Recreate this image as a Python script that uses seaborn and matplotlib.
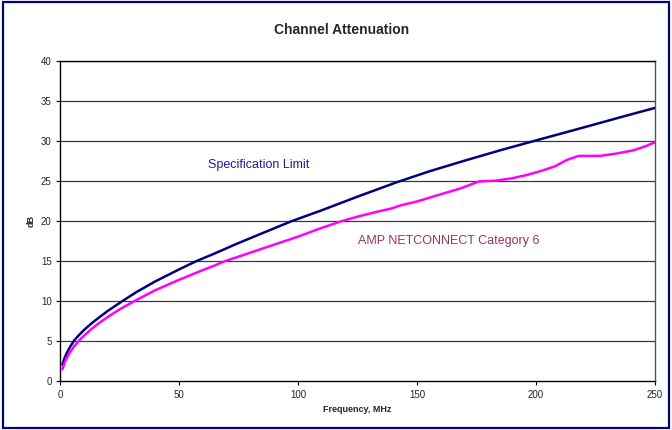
import pandas as pd
import matplotlib
matplotlib.use("Agg")
import matplotlib.pyplot as plt
import seaborn as sns
from matplotlib.patches import Rectangle

# values
spec_freq = [1, 2, 3, 4, 6, 8, 10, 13, 16, 20, 26, 32, 40, 50, 57, 65, 75, 86, 97,
             110, 125, 141, 155, 170, 185, 199, 212, 223, 237, 250]
spec_db = [2.1, 3.0, 3.65, 4.2, 5.15, 5.8, 6.4, 7.2, 7.9, 8.8, 10.0, 11.15, 12.5, 14.0,
           15.0, 16.0, 17.3, 18.65, 20.0, 21.4, 23.1, 24.85, 26.25, 27.6, 28.9, 30.05,
           31.1, 32.0, 33.15, 34.2]

amp_freq = [1, 2, 3, 4, 6, 8, 10, 13, 16, 20, 25, 31, 40, 50, 59, 65, 69, 80, 90,
            100, 110, 118, 125, 133, 139, 143, 150, 160, 168, 176, 183, 190, 196,
            202, 208, 213, 218, 227, 234, 241, 246, 250]
amp_db = [1.5, 2.4, 3.0, 3.55, 4.4, 5.1, 5.7, 6.5, 7.2, 8.05, 9.0, 10.0, 11.4, 12.7,
          13.8, 14.5, 15.0, 16.1, 17.1, 18.1, 19.2, 20.0, 20.6, 21.2, 21.6, 22.0,
          22.5, 23.4, 24.1, 25.0, 25.1, 25.4, 25.8, 26.3, 26.9, 27.7, 28.2, 28.2,
          28.5, 28.9, 29.4, 29.9]

x_ticks = [0, 50, 100, 150, 200, 250]
y_ticks = [0, 5, 10, 15, 20, 25, 30, 35, 40]

df = pd.concat([
    pd.DataFrame({"freq": spec_freq, "db": spec_db, "series": "Specification Limit"}),
    pd.DataFrame({"freq": amp_freq, "db": amp_db, "series": "AMP NETCONNECT Category 6"}),
])

sns.set_style("white")
plt.rcParams['font.family'] = ['Liberation Sans', 'DejaVu Sans']

fig = plt.figure(figsize=(6.72, 4.3), dpi=100)
ax = fig.add_axes([0.0893, 0.113, 0.8854, 0.744])

sns.lineplot(data=df, x="freq", y="db", hue="series", sort=False, estimator=None,
             palette={"Specification Limit": "#000080", "AMP NETCONNECT Category 6": "#ff00ff"},
             linewidth=1.8, legend=False, ax=ax)

ax.set_xlim(0, 250)
ax.set_ylim(0, 40)
ax.set_xticks(x_ticks)
ax.set_yticks(y_ticks)
ax.tick_params(axis="both", labelsize=7, length=3, width=0.8, direction="out",
               color="black", pad=3, bottom=True, left=True)
for y in y_ticks[1:]:
    ax.axhline(y, color="#3a3a3a", lw=0.9, zorder=0)

for side in ["left", "bottom", "top"]:
    ax.spines[side].set_color("black")
    ax.spines[side].set_linewidth(1.0)
ax.spines["right"].set_color("#555555")
ax.spines["right"].set_linewidth(1.0)

ax.set_xlabel("Frequency, MHz", fontsize=6.5, fontweight="bold", labelpad=4)
ax.set_ylabel("dB", fontsize=6.5, fontweight="bold", labelpad=4)

ax.text(62, 27, "Specification Limit", color="#1f1f8f", fontsize=9, va="center")
ax.text(125, 17.5, "AMP NETCONNECT Category 6", color="#993366", fontsize=9, va="center")

fig.text(0.508, 0.93, "Channel Attenuation", ha="center", va="center",
         fontsize=10, fontweight="bold")

fig.patches.append(Rectangle((0.004, 0.005), 0.992, 0.99, transform=fig.transFigure,
                             fill=False, edgecolor="#000080", lw=1.6))

fig.savefig("out.png", dpi=100)
